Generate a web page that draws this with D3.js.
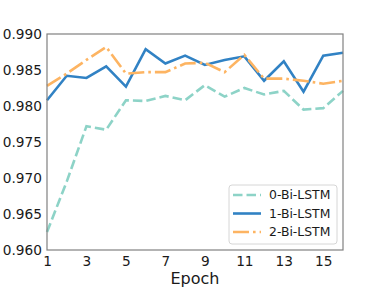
<!DOCTYPE html>
<html>
<head>
<meta charset="utf-8">
<script src="https://cdn.jsdelivr.net/npm/d3@7"></script>
<style>
  body { margin: 0; background: #fff; }
  svg { display: block; font-family: "DejaVu Sans", sans-serif; }
</style>
</head>
<body>
<div id="chart"></div>
<script>
'use strict';

// data
const epochs = d3.range(1, 17);
const xTicks = [1, 3, 5, 7, 9, 11, 13, 15];
const yTicks = [0.960, 0.965, 0.970, 0.975, 0.980, 0.985, 0.990];

const lstm0 = [0.9625, 0.9695, 0.9772, 0.9767, 0.9808, 0.9807, 0.9814, 0.9808, 0.9829, 0.9813, 0.9825, 0.9816, 0.9821, 0.9795, 0.9797, 0.9821];
const lstm1 = [0.9808, 0.9842, 0.9839, 0.9855, 0.9827, 0.9879, 0.9859, 0.9870, 0.9857, 0.9864, 0.9869, 0.9835, 0.9862, 0.9820, 0.9870, 0.9874];
const lstm2 = [0.9828, 0.9845, 0.9864, 0.9882, 0.9845, 0.9847, 0.9847, 0.9859, 0.9860, 0.9847, 0.9871, 0.9838, 0.9838, 0.9835, 0.9831, 0.9835];

const seriesNames = ['0-Bi-LSTM', '1-Bi-LSTM', '2-Bi-LSTM'];

const series = [
    { name: seriesNames[0], values: lstm0, color: '#8dd3c7', dash: '9.5,4' },
    { name: seriesNames[1], values: lstm1, color: '#3182c4', dash: null },
    { name: seriesNames[2], values: lstm2, color: '#fdb462', dash: '16,4,2.6,4' }
];

// ##################################################
// #  Chart                                         #
// ##################################################

const width = 382, height = 287;
const margin = { top: 34, right: 39, bottom: 37, left: 47 };

const svg = d3.select('#chart').append('svg')
    .attr('width', width)
    .attr('height', height);

const x = d3.scaleLinear([1, 16], [margin.left, width - margin.right]);
const y = d3.scaleLinear([0.960, 0.990], [height - margin.bottom, margin.top]);

const textColor = '#1a1a1a';

// lines
const line = d3.line()
    .x((d, i) => x(epochs[i]))
    .y(d => y(d));

svg.append('g')
    .selectAll('path')
    .data(series)
    .join('path')
    .attr('d', d => line(d.values))
    .attr('fill', 'none')
    .attr('stroke', d => d.color)
    .attr('stroke-width', 2.6)
    .attr('stroke-dasharray', d => d.dash)
    .attr('stroke-linejoin', 'miter');

// frame
svg.append('rect')
    .attr('x', margin.left)
    .attr('y', margin.top)
    .attr('width', width - margin.left - margin.right)
    .attr('height', height - margin.top - margin.bottom)
    .attr('fill', 'none')
    .attr('stroke', '#808080')
    .attr('stroke-width', 1.2);

// axes
const xAxis = svg.append('g')
    .attr('transform', `translate(0,${height - margin.bottom})`)
    .call(d3.axisBottom(x).tickValues(xTicks).tickSize(0).tickPadding(15).tickFormat(d3.format('d')));

const yAxis = svg.append('g')
    .attr('transform', `translate(${margin.left},0)`)
    .call(d3.axisLeft(y).tickValues(yTicks).tickSize(0).tickPadding(5).tickFormat(d3.format('.3f')));

for (const ax of [xAxis, yAxis]) {
    ax.select('.domain').remove();
    ax.selectAll('text')
        .attr('fill', textColor)
        .style('font-size', '13.7px')
        .style('font-family', '"DejaVu Sans", sans-serif');
}
xAxis.selectAll('text').attr('dy', 0).attr('y', 16);

svg.append('text')
    .attr('x', (margin.left + width - margin.right) / 2)
    .attr('y', 284)
    .attr('text-anchor', 'middle')
    .attr('fill', textColor)
    .style('font-size', '16px')
    .text('Epoch');

// legend
const legend = svg.append('g')
    .attr('transform', 'translate(229,185)');

legend.append('rect')
    .attr('width', 108)
    .attr('height', 59)
    .attr('rx', 3)
    .attr('fill', '#fff')
    .attr('fill-opacity', 0.8)
    .attr('stroke', '#d6d6d6')
    .attr('stroke-width', 1);

const item = legend.selectAll('.item')
    .data(series)
    .join('g')
    .attr('class', 'item')
    .attr('transform', (d, i) => `translate(0,${10 + i * 18.5})`);

item.append('line')
    .attr('x1', 4)
    .attr('x2', 32)
    .attr('stroke', d => d.color)
    .attr('stroke-width', 2.6)
    .attr('stroke-dasharray', d => d.dash);

item.append('text')
    .attr('x', 40)
    .attr('dy', '0.35em')
    .attr('fill', textColor)
    .style('font-size', '12.4px')
    .text(d => d.name);
</script>
</body>
</html>
